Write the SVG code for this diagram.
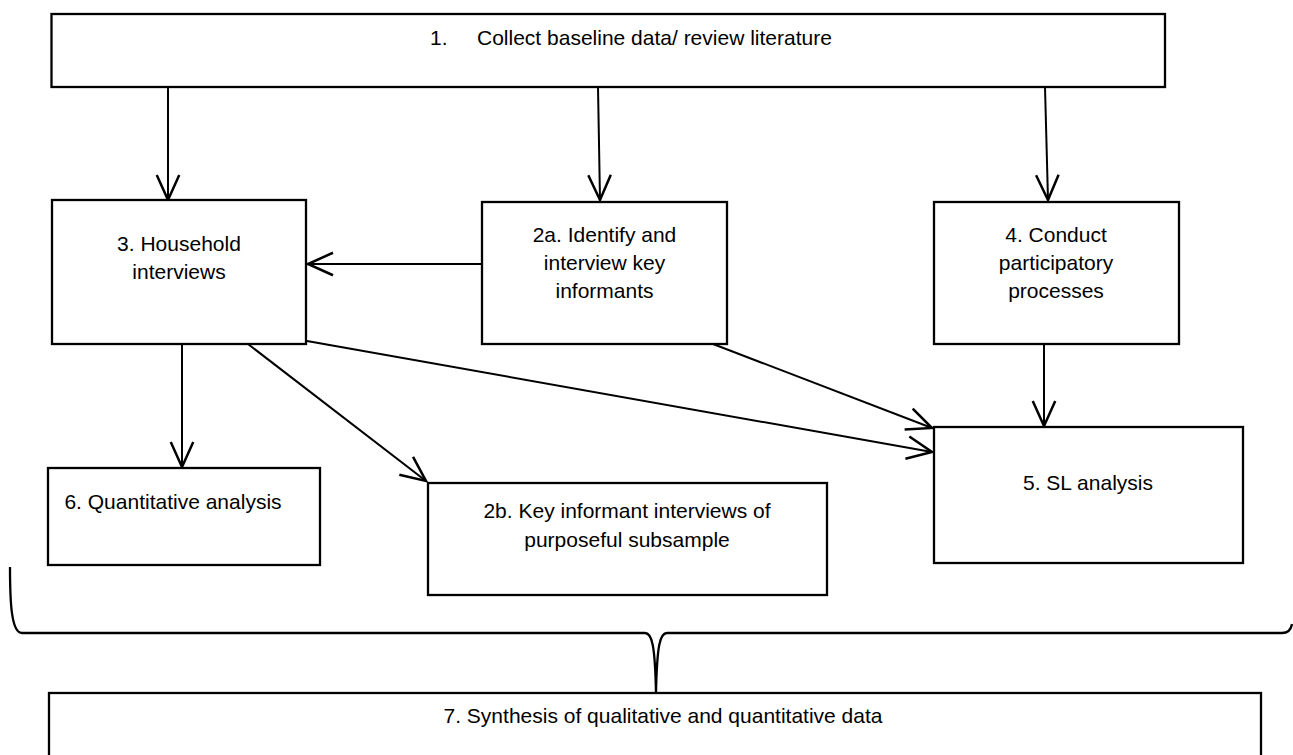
<svg xmlns="http://www.w3.org/2000/svg" width="1293" height="755" viewBox="0 0 1293 755">
  <defs>
    <marker id="arr" markerUnits="userSpaceOnUse" markerWidth="30" markerHeight="30" viewBox="-22 -11 24 22" refX="0" refY="0" orient="auto">
      <path d="M -20,-9 L 0,0 L -20,9" fill="none" stroke="#000" stroke-width="2"/>
    </marker>
    <style>
      .box { fill: #fff; stroke: #000; stroke-width: 2.3; }
      .t { font-family: "Liberation Sans", Arial, sans-serif; font-size: 21px; fill: #000; }
      .c { text-anchor: middle; }
      .edge { stroke: #000; stroke-width: 2; fill: none; marker-end: url(#arr); }
    </style>
  </defs>
  <rect width="1293" height="755" fill="#fff"/>

  <g id="connectors">
    <line class="edge" x1="168" y1="87" x2="168" y2="200"/>
    <line class="edge" x1="598" y1="87" x2="600" y2="200"/>
    <line class="edge" x1="1045" y1="87" x2="1048" y2="200"/>
    <line class="edge" x1="482" y1="264" x2="308" y2="264"/>
    <line class="edge" x1="182" y1="344" x2="182" y2="467"/>
    <line class="edge" x1="248" y1="344" x2="426" y2="481"/>
    <line class="edge" x1="307" y1="341" x2="932" y2="452"/>
    <line class="edge" x1="713" y1="344" x2="932" y2="428"/>
    <line class="edge" x1="1044" y1="344" x2="1044" y2="426"/>
    <path id="brace" d="M 10,567 C 10,600 11,633 22,633 L 645,633 C 652,633 655,645 656,693 C 657,645 660,633 667,633 L 1282,633 C 1288,633 1291,630 1292,624" fill="none" stroke="#000" stroke-width="2.3"/>
  </g>

  <g id="node1">
    <rect class="box" x="51.5" y="14" width="1113.5" height="73"/>
    <text class="t" x="430" y="45">1.</text>
    <text class="t" x="477" y="45">Collect baseline data/ review literature</text>
  </g>

  <g id="node3">
    <rect class="box" x="52" y="200" width="254" height="144"/>
    <text class="t c" x="179" y="251">3. Household</text>
    <text class="t c" x="179" y="279">interviews</text>
  </g>

  <g id="node2a">
    <rect class="box" x="482" y="202" width="245" height="142"/>
    <text class="t c" x="604.5" y="242">2a. Identify and</text>
    <text class="t c" x="604.5" y="270">interview key</text>
    <text class="t c" x="604.5" y="298">informants</text>
  </g>

  <g id="node4">
    <rect class="box" x="934" y="202" width="245" height="142"/>
    <text class="t c" x="1056" y="242">4. Conduct</text>
    <text class="t c" x="1056" y="270">participatory</text>
    <text class="t c" x="1056" y="298">processes</text>
  </g>

  <g id="node6">
    <rect class="box" x="48" y="468" width="272" height="97"/>
    <text class="t c" x="173" y="509">6. Quantitative analysis</text>
  </g>

  <g id="node2b">
    <rect class="box" x="428" y="483" width="399" height="112"/>
    <text class="t c" x="627" y="518">2b. Key informant interviews of</text>
    <text class="t c" x="627" y="547">purposeful subsample</text>
  </g>

  <g id="node5">
    <rect class="box" x="934" y="427" width="309" height="136"/>
    <text class="t c" x="1088" y="490">5. SL analysis</text>
  </g>

  <g id="node7">
    <rect class="box" x="49" y="693" width="1212" height="80"/>
    <text class="t c" x="663" y="723">7. Synthesis of qualitative and quantitative data</text>
  </g>
</svg>
